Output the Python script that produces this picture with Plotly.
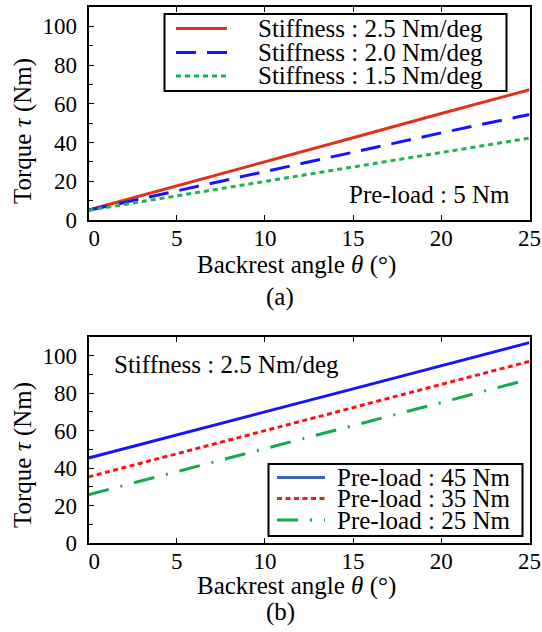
import plotly.graph_objects as go

# ---------------- data ----------------
angle = [0, 5, 10, 15, 20, 25]

# (a) pre-load 5 Nm, different stiffness
stiff_labels = ["Stiffness : 2.5 Nm/deg", "Stiffness : 2.0 Nm/deg", "Stiffness : 1.5 Nm/deg"]
torque_k25 = [5.2, 17.5, 30.0, 42.5, 55.0, 67.3]
torque_k20 = [5.0, 15.0, 25.0, 35.0, 45.0, 54.5]
torque_k15 = [5.0, 12.5, 20.0, 27.5, 35.0, 42.3]

# (b) stiffness 2.5 Nm/deg, different pre-load
preload_labels = ["Pre-load : 45 Nm", "Pre-load : 35 Nm", "Pre-load : 25 Nm"]
torque_p45 = [45.4, 57.5, 70.0, 82.3, 94.7, 107.0]
torque_p35 = [35.3, 47.5, 60.0, 72.3, 84.7, 97.0]
torque_p25 = [25.8, 38.0, 50.3, 62.7, 75.0, 87.5]

x_ticks = [0, 5, 10, 15, 20, 25]
x_ticktext = ["\u00a0\u00a00", "5", "10", "15", "20", "25"]
y_ticks = [0, 20, 40, 60, 80, 100]

FONT = "Liberation Serif"
W, H = 542, 632


def px(x):
    return x / W


def py(y):
    return 1 - y / H


top_styles = [
    dict(color="#e0321a", dash="solid"),
    dict(color="#1414ff", dash="20px,11px"),
    dict(color="#1db34f", dash="5px,4px"),
]
bot_styles = [
    dict(color="#1414ff", dash="solid"),
    dict(color="#ff1010", dash="5px,3.5px"),
    dict(color="#12aa50", dash="21px,12px,2px,12px"),
]
bot_legend_colors = ["#3b68b5", "#ff1a1a", "#12aa50"]

fig = go.Figure()

for ys, lab, st in zip([torque_k25, torque_k20, torque_k15], stiff_labels, top_styles):
    fig.add_trace(go.Scatter(x=angle, y=ys, mode="lines", name=lab,
                             line=dict(color=st["color"], dash=st["dash"], width=3),
                             xaxis="x", yaxis="y", showlegend=False))

for ys, lab, st in zip([torque_p45, torque_p35, torque_p25], preload_labels, bot_styles):
    fig.add_trace(go.Scatter(x=angle, y=ys, mode="lines", name=lab,
                             line=dict(color=st["color"], dash=st["dash"], width=3),
                             xaxis="x2", yaxis="y2", showlegend=False))

xdom = [px(88.5), px(529.5)]
ydom_top = [py(220), py(7)]
ydom_bot = [py(543), py(337)]

tickfont = dict(family=FONT, size=23, color="black")


def xaxis_cfg(anchor):
    return dict(domain=xdom, anchor=anchor, range=[0, 25],
                tickvals=x_ticks, ticktext=x_ticktext,
                ticks="inside", ticklen=5, tickwidth=1, tickcolor="black",
                showline=True, linecolor="black", linewidth=2, mirror="ticks",
                showgrid=False, zeroline=False, tickfont=tickfont,
                ticklabeloverflow="allow",
                automargin=False, ticklabelstandoff=-4)


def yaxis_cfg(anchor, dom):
    return dict(domain=dom, anchor=anchor, range=[0, 110], tickvals=y_ticks,
                ticks="inside", ticklen=5, tickwidth=1, tickcolor="black",
                minor=dict(dtick=10, tick0=0, ticks="inside", ticklen=4, tickcolor="black"),
                showline=True, linecolor="black", linewidth=2, mirror=True,
                showgrid=False, zeroline=False, tickfont=tickfont,
                ticklabeloverflow="allow",
                automargin=False, ticklabelstandoff=5)


fig.update_layout(
    width=W, height=H, autosize=False,
    margin=dict(l=0, r=0, t=0, b=0, pad=0),
    paper_bgcolor="white", plot_bgcolor="white",
    font=dict(family=FONT, size=25, color="black"),
    xaxis=xaxis_cfg("y"),
    yaxis=yaxis_cfg("x", ydom_top),
    xaxis2=xaxis_cfg("y2"),
    yaxis2=yaxis_cfg("x2", ydom_bot),
    showlegend=False,
)

shapes = []
annotations = []


def add_text(text, x, y, xanchor="left", textangle=0, size=25):
    annotations.append(dict(text=text, x=px(x), y=py(y), xref="paper", yref="paper",
                            xanchor=xanchor, yanchor="middle", showarrow=False,
                            textangle=textangle, borderpad=0,
                            font=dict(family=FONT, size=size, color="black")))


# ---- legend (a) ----
shapes.append(dict(type="rect", xref="paper", yref="paper",
                   x0=px(164.5), x1=px(506.5), y0=py(91), y1=py(14),
                   line=dict(color="black", width=2), fillcolor="white", layer="above"))
for lab, st, yy in zip(stiff_labels, top_styles, [28.5, 52.5, 76]):
    shapes.append(dict(type="line", xref="paper", yref="paper",
                       x0=px(176), x1=px(227), y0=py(yy), y1=py(yy),
                       line=dict(color=st["color"], dash=st["dash"], width=3), layer="above"))
    add_text(lab, 257, yy)

# ---- legend (b) ----
shapes.append(dict(type="rect", xref="paper", yref="paper",
                   x0=px(268.5), x1=px(522.5), y0=py(536), y1=py(464),
                   line=dict(color="black", width=2), fillcolor="white", layer="above"))
for lab, st, col, yy in zip(preload_labels, bot_styles, bot_legend_colors, [477.5, 498.5, 520]):
    shapes.append(dict(type="line", xref="paper", yref="paper",
                       x0=px(277), x1=px(325), y0=py(yy), y1=py(yy),
                       line=dict(color=col, dash=st["dash"], width=3), layer="above"))
    add_text(lab, 335.5, yy)

# ---- in-plot notes ----
add_text("Pre-load : 5 Nm", 511, 194, xanchor="right")
add_text("Stiffness : 2.5 Nm/deg", 113, 364)

# ---- axis titles & captions ----
xtitle = "Backrest angle <i>θ</i> (°)"
ytitle = "Torque <i>τ</i> (Nm)"
add_text(xtitle, 296.5, 265, xanchor="center")
add_text(xtitle, 296.5, 586, xanchor="center")
add_text(ytitle, 23, 131, xanchor="center", textangle=-90)
add_text(ytitle, 23, 455, xanchor="center", textangle=-90)
add_text("(a)", 280, 297, xanchor="center")
add_text("(b)", 280, 612, xanchor="center")

fig.update_layout(shapes=shapes, annotations=annotations)

fig.write_html("out.html",
               config={"displayModeBar": False, "staticPlot": True},
               post_script="document.body.style.margin='0';document.body.style.overflow='hidden';")
